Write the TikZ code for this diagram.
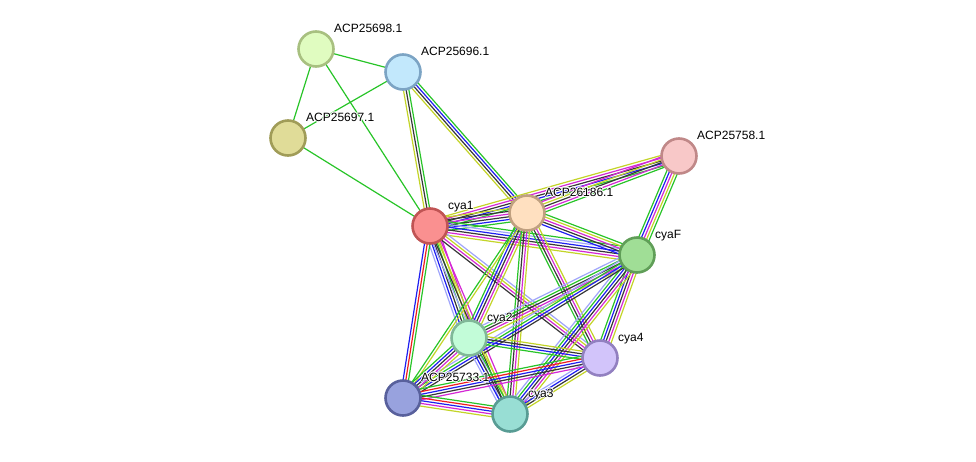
\documentclass[tikz,border=0pt]{standalone}
\usepackage{fontspec}
\setmainfont{Liberation Sans}
\usetikzlibrary{calc,backgrounds}
\definecolor{tm}{RGB}{195,212,40}
\definecolor{gr}{RGB}{40,196,40}
\definecolor{bl}{RGB}{30,30,240}
\definecolor{bk}{RGB}{55,55,55}
\definecolor{mg}{RGB}{212,40,212}
\definecolor{rd}{RGB}{238,30,30}
\definecolor{db}{RGB}{160,165,250}
\newcommand\halotxt[1]{\leavevmode
  \rlap{\color{white}\raisebox{0.8pt}{#1}}\rlap{\color{white}\raisebox{-0.8pt}{#1}}%
  \rlap{\color{white}\hspace{0.8pt}#1}\rlap{\color{white}\hspace{-0.8pt}#1}%
  \rlap{\color{white}\hspace{0.6pt}\raisebox{0.6pt}{#1}}\rlap{\color{white}\hspace{-0.6pt}\raisebox{-0.6pt}{#1}}%
  \rlap{\color{white}\hspace{0.6pt}\raisebox{-0.6pt}{#1}}\rlap{\color{white}\hspace{-0.6pt}\raisebox{0.6pt}{#1}}%
  #1}
\newcommand\edg[4]{%
  \foreach \cc [count=\ii] in {#4} {%
    \pgfmathsetmacro\dd{(\ii-(#3+1)/2)*2.7}%
    \draw[edgeline, draw=\cc] ($(#1)!\dd pt!90:(#2)$) -- ($(#2)!\dd pt!-90:(#1)$);
  }%
}
\tikzset{
  prot/.style={circle, minimum size=35pt, inner sep=0pt, line width=2.6pt},
  lbl/.style={anchor=base west, inner sep=0pt, font=\fontsize{12}{14}\selectfont},
  edgeline/.style={line width=1.2pt}
}
\begin{document}
\begin{tikzpicture}[x=1pt,y=-1pt]
\useasboundingbox (0,0) rectangle (976,461);
% nodes
\node[prot, fill={rgb,255:red,224;green,252;blue,192}, draw={rgb,255:red,168;green,192;blue,128}] (p98) at (316,49) {};
\node[prot, fill={rgb,255:red,194;green,232;blue,252}, draw={rgb,255:red,124;green,164;blue,196}] (p96) at (403,72) {};
\node[prot, fill={rgb,255:red,224;green,220;blue,152}, draw={rgb,255:red,160;green,156;blue,88}] (p97) at (288,138) {};
\node[prot, fill={rgb,255:red,248;green,200;blue,200}, draw={rgb,255:red,192;green,136;blue,136}] (p58) at (679,156) {};
\node[prot, fill={rgb,255:red,250;green,144;blue,144}, draw={rgb,255:red,192;green,84;blue,84}] (c1) at (430,226) {};
\node[prot, fill={rgb,255:red,255;green,224;blue,192}, draw={rgb,255:red,192;green,160;blue,128}] (p86) at (527,213) {};
\node[prot, fill={rgb,255:red,160;green,222;blue,150}, draw={rgb,255:red,96;green,158;blue,88}] (cF) at (637,255) {};
\node[prot, fill={rgb,255:red,194;green,252;blue,216}, draw={rgb,255:red,128;green,184;blue,152}] (c2) at (469,338) {};
\node[prot, fill={rgb,255:red,210;green,196;blue,250}, draw={rgb,255:red,146;green,128;blue,192}] (c4) at (600,358) {};
\node[prot, fill={rgb,255:red,152;green,162;blue,222}, draw={rgb,255:red,88;green,96;blue,156}] (p33) at (403,398) {};
\node[prot, fill={rgb,255:red,152;green,222;blue,212}, draw={rgb,255:red,88;green,156;blue,148}] (c3) at (510,414) {};
% edges
\begin{pgfonlayer}{background}
\edg{p98}{p96}{1}{gr}
\edg{p98}{p97}{1}{gr}
\edg{p98}{c1}{1}{gr}
\edg{p97}{p96}{1}{gr}
\edg{p97}{c1}{1}{gr}
\edg{p96}{c1}{3}{tm,bk,gr}
\edg{p96}{p86}{4}{tm,bk,bl,gr}
\edg{c1}{p58}{5}{gr,bl,bk,mg,tm}
\edg{p86}{p58}{5}{gr,mg,bk,tm,mg}
\edg{p58}{cF}{5}{gr,bl,mg,tm,gr}
\edg{c1}{p86}{6}{gr,bl,bk,mg,bk,tm}
\edg{c1}{cF}{6}{tm,mg,bk,bl,db,gr}
\edg{p86}{cF}{5}{bl,bk,mg,tm,gr}
\edg{c1}{c2}{6}{db,bl,bk,gr,tm,mg}
\edg{c1}{c4}{4}{bk,mg,tm,db}
\edg{c1}{c3}{4}{db,bk,tm,mg}
\edg{c1}{p33}{3}{bl,rd,gr}
\edg{p86}{c2}{5}{gr,bl,bk,mg,tm}
\edg{p86}{c4}{4}{gr,bk,mg,tm}
\edg{p86}{c3}{4}{gr,bk,mg,tm}
\edg{p86}{p33}{2}{gr,tm}
\edg{cF}{c2}{5}{db,gr,bk,mg,tm}
\edg{cF}{c4}{5}{gr,bl,bk,mg,tm}
\edg{cF}{c3}{6}{db,gr,bl,bk,mg,tm}
\edg{cF}{p33}{4}{db,gr,bl,bk}
\edg{c2}{c4}{4}{gr,bl,bk,tm}
\edg{c2}{c3}{5}{db,bl,bk,gr,tm}
\edg{c2}{p33}{5}{gr,bl,bk,mg,tm}
\edg{c4}{c3}{4}{db,bl,bk,tm}
\edg{c4}{p33}{5}{gr,rd,bl,bk,mg}
\edg{p33}{c3}{5}{tm,mg,bl,rd,gr}
\end{pgfonlayer}
% labels
\node[lbl] (l98) at (334,32.3) {\halotxt{ACP25698.1}};
\node[lbl] (l96) at (421,55.3) {\halotxt{ACP25696.1}};
\node[lbl] (l97) at (306,121.3) {\halotxt{ACP25697.1}};
\node[lbl] (l58) at (697,139.3) {\halotxt{ACP25758.1}};
\node[lbl] (lc1) at (448,209.3) {\halotxt{cya1}};
\node[lbl] (l86) at (545,196.3) {\halotxt{ACP26186.1}};
\node[lbl] (lcF) at (655,238.3) {\halotxt{cyaF}};
\node[lbl] (lc2) at (487,321.3) {\halotxt{cya2}};
\node[lbl] (lc4) at (618,341.3) {\halotxt{cya4}};
\node[lbl] (l33) at (421,381.3) {\halotxt{ACP25733.1}};
\node[lbl] (lc3) at (528,397.3) {\halotxt{cya3}};
\end{tikzpicture}
\end{document}
